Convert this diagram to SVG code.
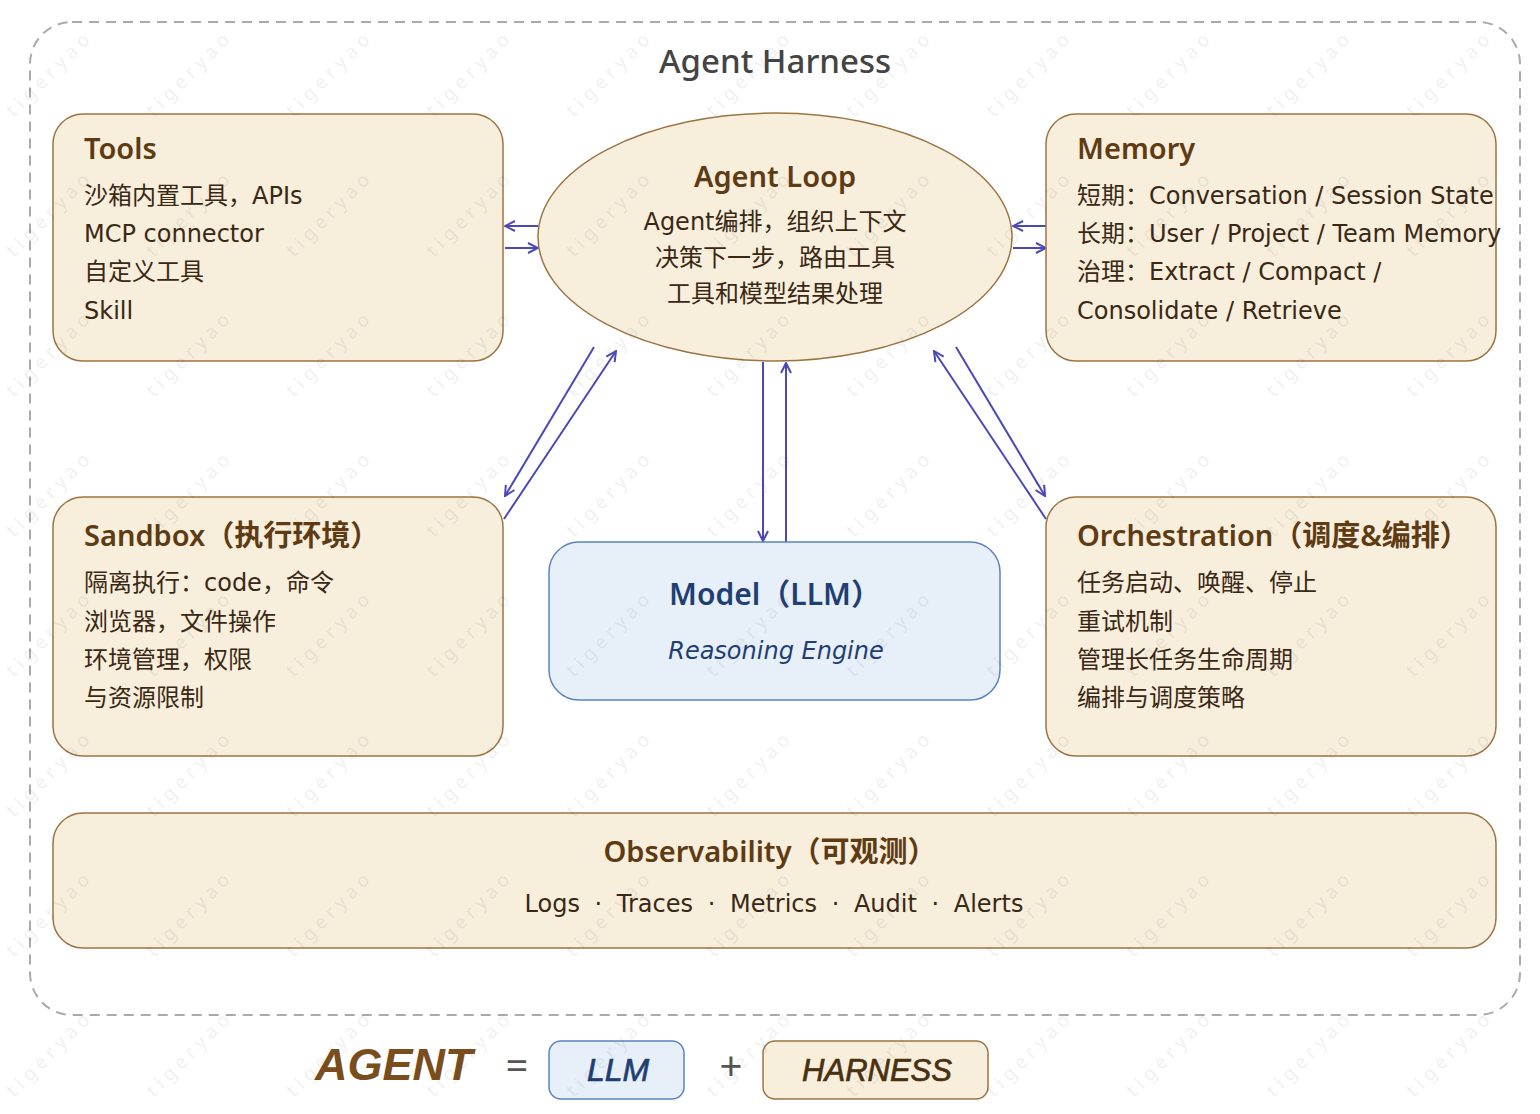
<svg xmlns="http://www.w3.org/2000/svg" width="1540" height="1114" viewBox="0 0 1540 1114">
<style>
.box{fill:#f7eedc;stroke:#9c7443;stroke-width:1.5}
.blue{fill:#e7eff9;stroke:#5a84c0;stroke-width:1.5}
.t{font-family:"Noto Sans","Noto Sans CJK SC",sans-serif}
.title{font-size:29px;font-weight:600;fill:#5e3b12}
.body{font-family:"DejaVu Sans","Noto Sans CJK SC",sans-serif;font-size:24px;fill:#3a2814}
.f{font-family:"Liberation Sans",Arial,sans-serif;font-style:italic}
.conn{stroke:#4b48b8;stroke-width:2;fill:none;marker-end:url(#arr)}
.wm{font-family:"Noto Sans",sans-serif;font-size:19px;fill:#000;fill-opacity:0.06;letter-spacing:5px}
</style>
<defs>
<marker id="arr" viewBox="0 0 12 12" refX="11" refY="6" markerWidth="12" markerHeight="12" markerUnits="userSpaceOnUse" orient="auto">
<path d="M1,1 L11,6 L1,11" fill="none" stroke="#4b48b8" stroke-width="2"/>
</marker>
<pattern id="wmp" patternUnits="userSpaceOnUse" x="0" y="0" width="140" height="140">
<text class="wm" transform="translate(14,118) rotate(-45)">tigeryao</text>
</pattern>
</defs>
<rect width="1540" height="1114" fill="#ffffff"/>
<g id="harness">
<rect x="30" y="22" width="1490" height="993" rx="42" fill="none" stroke="#aaaaaa" stroke-width="2" stroke-dasharray="10 7"/>
<text class="t" x="775" y="73" text-anchor="middle" font-size="33" font-weight="500" fill="#444">Agent Harness</text>
</g>
<g id="connectors">
<line class="conn" x1="538" y1="226" x2="505" y2="226"/>
<line class="conn" x1="505" y1="248" x2="538" y2="248"/>
<line class="conn" x1="1046" y1="226" x2="1013" y2="226"/>
<line class="conn" x1="1013" y1="248" x2="1046" y2="248"/>
<line class="conn" x1="594" y1="347" x2="505" y2="496"/>
<line class="conn" x1="504" y1="519" x2="616" y2="351"/>
<line class="conn" x1="763" y1="362" x2="763" y2="541"/>
<line class="conn" x1="786" y1="542" x2="786" y2="363"/>
<line class="conn" x1="1046" y1="519" x2="934" y2="351"/>
<line class="conn" x1="956" y1="347" x2="1045" y2="496"/>
</g>
<g id="tools">
<rect class="box" x="53" y="114" width="450" height="247" rx="30"/>
<text class="t title" x="84" y="159">Tools</text>
<text class="body" x="84" y="204">沙箱内置工具，APIs</text>
<text class="body" x="84" y="242">MCP connector</text>
<text class="body" x="84" y="280">自定义工具</text>
<text class="body" x="84" y="319">Skill</text>
</g>
<g id="agent-loop">
<ellipse class="box" cx="775" cy="237" rx="237" ry="124"/>
<text class="t title" x="775" y="187" text-anchor="middle" font-size="28">Agent Loop</text>
<text class="body" x="775" y="230" text-anchor="middle">Agent编排，组织上下文</text>
<text class="body" x="775" y="266" text-anchor="middle">决策下一步，路由工具</text>
<text class="body" x="775" y="302" text-anchor="middle">工具和模型结果处理</text>
</g>
<g id="memory">
<rect class="box" x="1046" y="114" width="450" height="247" rx="30"/>
<text class="t title" x="1077" y="159">Memory</text>
<text class="body" x="1077" y="204">短期：Conversation / Session State</text>
<text class="body" x="1077" y="242">长期：User / Project / Team Memory</text>
<text class="body" x="1077" y="280">治理：Extract / Compact /</text>
<text class="body" x="1077" y="319">Consolidate / Retrieve</text>
</g>
<g id="sandbox">
<rect class="box" x="53" y="497" width="450" height="259" rx="30"/>
<text class="t title" x="84" y="546">Sandbox（执行环境）</text>
<text class="body" x="84" y="591">隔离执行：code，命令</text>
<text class="body" x="84" y="630">浏览器，文件操作</text>
<text class="body" x="84" y="668">环境管理，权限</text>
<text class="body" x="84" y="706">与资源限制</text>
</g>
<g id="orchestration">
<rect class="box" x="1046" y="497" width="450" height="259" rx="30"/>
<text class="t title" x="1077" y="546">Orchestration（调度&amp;编排）</text>
<text class="body" x="1077" y="591">任务启动、唤醒、停止</text>
<text class="body" x="1077" y="630">重试机制</text>
<text class="body" x="1077" y="668">管理长任务生命周期</text>
<text class="body" x="1077" y="706">编排与调度策略</text>
</g>
<g id="model">
<rect class="blue" x="549" y="542" width="451" height="158" rx="30"/>
<text class="t" x="775" y="605" text-anchor="middle" font-size="30" font-weight="600" fill="#1f3f73">Model（LLM）</text>
<text class="body" x="776" y="659" text-anchor="middle" font-size="25" font-style="italic" style="fill:#1f3f73">Reasoning Engine</text>
</g>
<g id="observability">
<rect class="box" x="53" y="813" width="1443" height="135" rx="30"/>
<text class="t title" x="770" y="862" text-anchor="middle" font-size="30">Observability（可观测）</text>
<text class="body" x="774" y="912" text-anchor="middle" font-size="26" word-spacing="7">Logs · Traces · Metrics · Audit · Alerts</text>
</g>
<g id="formula">
<text class="f" x="315" y="1080" font-size="45" font-weight="700" fill="#7a4e1c">AGENT</text>
<text class="t" x="517" y="1080" text-anchor="middle" font-size="40" fill="#555">=</text>
<rect class="blue" x="549" y="1041" width="135" height="58" rx="12"/>
<text class="f" x="618" y="1081" text-anchor="middle" font-size="32" fill="#1f3f73" stroke="#1f3f73" stroke-width="0.7">LLM</text>
<text class="t" x="731" y="1080" text-anchor="middle" font-size="40" fill="#555">+</text>
<rect class="box" x="763" y="1041" width="225" height="58" rx="12"/>
<text class="f" x="877" y="1081" text-anchor="middle" font-size="31" fill="#4a3010" stroke="#4a3010" stroke-width="0.7">HARNESS</text>
</g>
<rect id="watermark" width="1540" height="1114" fill="url(#wmp)" pointer-events="none"/>
</svg>
